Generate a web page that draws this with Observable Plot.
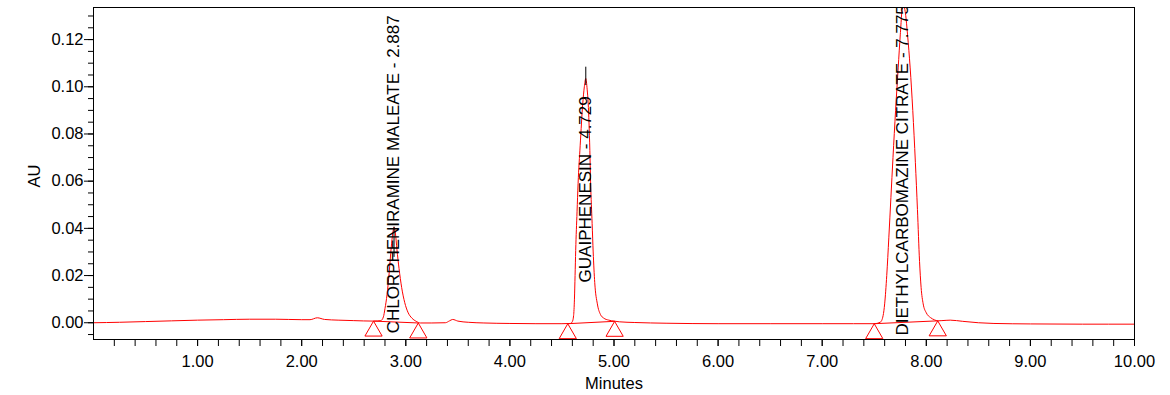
<!DOCTYPE html>
<html>
<head>
<meta charset="utf-8">
<script src="https://cdn.jsdelivr.net/npm/d3@7"></script>
<script src="https://cdn.jsdelivr.net/npm/@observablehq/plot@0.6"></script>
<style>
  html, body { margin: 0; padding: 0; background: #ffffff; }
  #chart svg { display: block; }
</style>
</head>
<body>
<div id="chart"></div>
<script>
// Chromatogram trace (minutes, AU)
const traceTime = [
  0.00, 0.25, 0.50, 0.75, 1.00, 1.25, 1.50, 1.75, 2.00, 2.08, 2.15, 2.22, 2.35, 2.50, 2.69,
  2.76, 2.785, 2.80, 2.82, 2.84, 2.86, 2.875, 2.887, 2.90, 2.915, 2.935, 2.96, 2.99, 3.02, 3.06, 3.10, 3.14,
  3.25, 3.38, 3.42, 3.45, 3.50, 3.60, 3.75, 4.00, 4.25, 4.50, 4.58,
  4.60, 4.612, 4.62, 4.626, 4.632, 4.645, 4.655, 4.675, 4.700, 4.715, 4.729, 4.742, 4.752, 4.768, 4.775,
  4.79, 4.80, 4.815, 4.84, 4.87, 4.90, 4.95, 5.00, 5.05,
  5.20, 5.50, 6.00, 6.50, 7.00, 7.30, 7.50,
  7.56, 7.585, 7.60, 7.62, 7.64, 7.66, 7.68, 7.705, 7.73, 7.75, 7.775, 7.80, 7.82, 7.845, 7.87, 7.895,
  7.915, 7.935, 7.95, 7.97, 8.00, 8.04, 8.08, 8.11, 8.15, 8.23, 8.35, 8.50, 8.65, 9.00, 9.50, 10.00
];
const traceAU = [
  0.0000, 0.0002, 0.0005, 0.0008, 0.0011, 0.0013, 0.0015, 0.0015, 0.0013, 0.0013, 0.0021, 0.0014, 0.0011, 0.0009, 0.0007,
  0.0009, 0.0025, 0.0060, 0.0120, 0.0210, 0.0320, 0.0380, 0.0405, 0.0380, 0.0310, 0.0230, 0.0150, 0.0085, 0.0045, 0.0019, 0.0006, -0.0001,
  -0.0001, 0.0000, 0.0008, 0.0014, 0.0007, 0.0002, -0.0001, -0.0003, -0.0004, -0.0004, -0.0003,
  0.0005, 0.0030, 0.0100, 0.0200, 0.0306, 0.0470, 0.0590, 0.0750, 0.0930, 0.1000, 0.1035, 0.0990, 0.0930, 0.0730, 0.0600,
  0.0420, 0.0300, 0.0170, 0.0080, 0.0035, 0.0020, 0.0011, 0.0007, 0.0004,
  0.0001, -0.0002, -0.0004, -0.0004, -0.0004, -0.0004, -0.0004,
  0.0003, 0.0030, 0.0080, 0.0200, 0.0360, 0.0530, 0.0700, 0.0900, 0.1080, 0.1220, 0.1350, 0.1310, 0.1220, 0.1080, 0.0900, 0.0680,
  0.0480, 0.0260, 0.0150, 0.0080, 0.0042, 0.0022, 0.0012, 0.0008, 0.0009, 0.0011, 0.0006, 0.0000, -0.0003, -0.0005, -0.0006, -0.0006
];

// Peaks
const peakNames = ["CHLORPHENIRAMINE MALEATE", "GUAIPHENESIN", "DIETHYLCARBOMAZINE CITRATE"];
const peakTimes = [2.887, 4.729, 7.775];
const labelBaseAU = [-0.0045, 0.0171, -0.0054];

// Apex markers (black)
const markerTime = [2.887, 4.729];
const markerLowAU = [0.0277, 0.1005];
const markerHighAU = [0.0405, 0.1083];

// Integration baselines (start / end triangles)
const baselineStartTime = [2.69, 4.556, 7.50];
const baselineStartAU = [0.0007, -0.0004, -0.0004];
const baselineEndTime = [3.12, 5.006, 8.11];
const baselineEndAU = [-0.0001, 0.0006, 0.0008];

// Axes
const xTickValues = [1, 2, 3, 4, 5, 6, 7, 8, 9, 10];
const xTickLabels = ["1.00", "2.00", "3.00", "4.00", "5.00", "6.00", "7.00", "8.00", "9.00", "10.00"];
const xMinorTicks = d3.range(1, 51).map(i => i * 0.2);
const yTickValues = [0, 0.02, 0.04, 0.06, 0.08, 0.10, 0.12];
const yTickLabels = ["0.00", "0.02", "0.04", "0.06", "0.08", "0.10", "0.12"];
const yMinorTicks = d3.range(-1, 27).map(i => i * 0.005);

const trace = traceTime.map((t, i) => ({t, au: traceAU[i]}));
const baselines = baselineStartTime.flatMap((t, i) => [
  {id: i, t, au: baselineStartAU[i]},
  {id: i, t: baselineEndTime[i], au: baselineEndAU[i]}
]);
const markers = markerTime.map((t, i) => ({t, lo: markerLowAU[i], hi: markerHighAU[i]}));
const labels = peakNames.map((n, i) => ({t: peakTimes[i], au: labelBaseAU[i], text: `${n} - ${peakTimes[i].toFixed(3)}`}));

const font = "'Liberation Sans', Arial, Helvetica, sans-serif";

const chart = Plot.plot({
  width: 1170,
  height: 395,
  marginLeft: 93,
  marginRight: 36,
  marginTop: 7,
  marginBottom: 56,
  style: {fontFamily: font, fontSize: "16.5px", color: "black", background: "white", overflow: "visible"},
  x: {domain: [0, 10], label: null},
  y: {domain: [-0.0071, 0.1336], label: null},
  marks: [
    Plot.axisX(xMinorTicks, {anchor: "bottom", tickSize: 7, tickFormat: () => "", label: null}),
    Plot.axisX(xTickValues, {anchor: "bottom", tickSize: 7, tickPadding: 9, fontSize: 16.5,
      tickFormat: d => xTickLabels[xTickValues.indexOf(d)], label: null}),
    Plot.axisY(yMinorTicks, {anchor: "left", tickSize: 5, tickFormat: () => "", label: null}),
    Plot.axisY(yTickValues, {anchor: "left", tickSize: 9, tickPadding: 1, fontSize: 16.5,
      tickFormat: d => yTickLabels[yTickValues.indexOf(d)], label: null}),
    Plot.line(trace, {x: "t", y: "au", stroke: "#ff0000", strokeWidth: 1, curve: "monotone-x", clip: true}),
    Plot.line(baselines, {x: "t", y: "au", z: "id", stroke: "#ff0000", strokeWidth: 1, clip: true}),
    Plot.dot(baselines, {x: "t", y: "au", symbol: "triangle", r: 6.4, dy: 10, stroke: "#ff0000", strokeWidth: 1, fill: "none", clip: true}),
    Plot.ruleX(markers, {x: "t", y1: "lo", y2: "hi", stroke: "black", strokeWidth: 1, clip: true}),
    Plot.text(labels, {x: "t", y: "au", text: "text", rotate: -90, textAnchor: "start", lineAnchor: "middle",
      fontSize: 17, fill: "black", clip: true}),
    Plot.frame({stroke: "black", strokeWidth: 1}),
    Plot.text(["Minutes"], {text: d => d, frameAnchor: "bottom", dy: 49, fontSize: 16.5, fill: "black"}),
    Plot.text(["AU"], {text: d => d, frameAnchor: "left", dx: -59, dy: 14, rotate: -90, fontSize: 16.5, fill: "black"})
  ]
});
document.getElementById("chart").appendChild(chart);
</script>
</body>
</html>
